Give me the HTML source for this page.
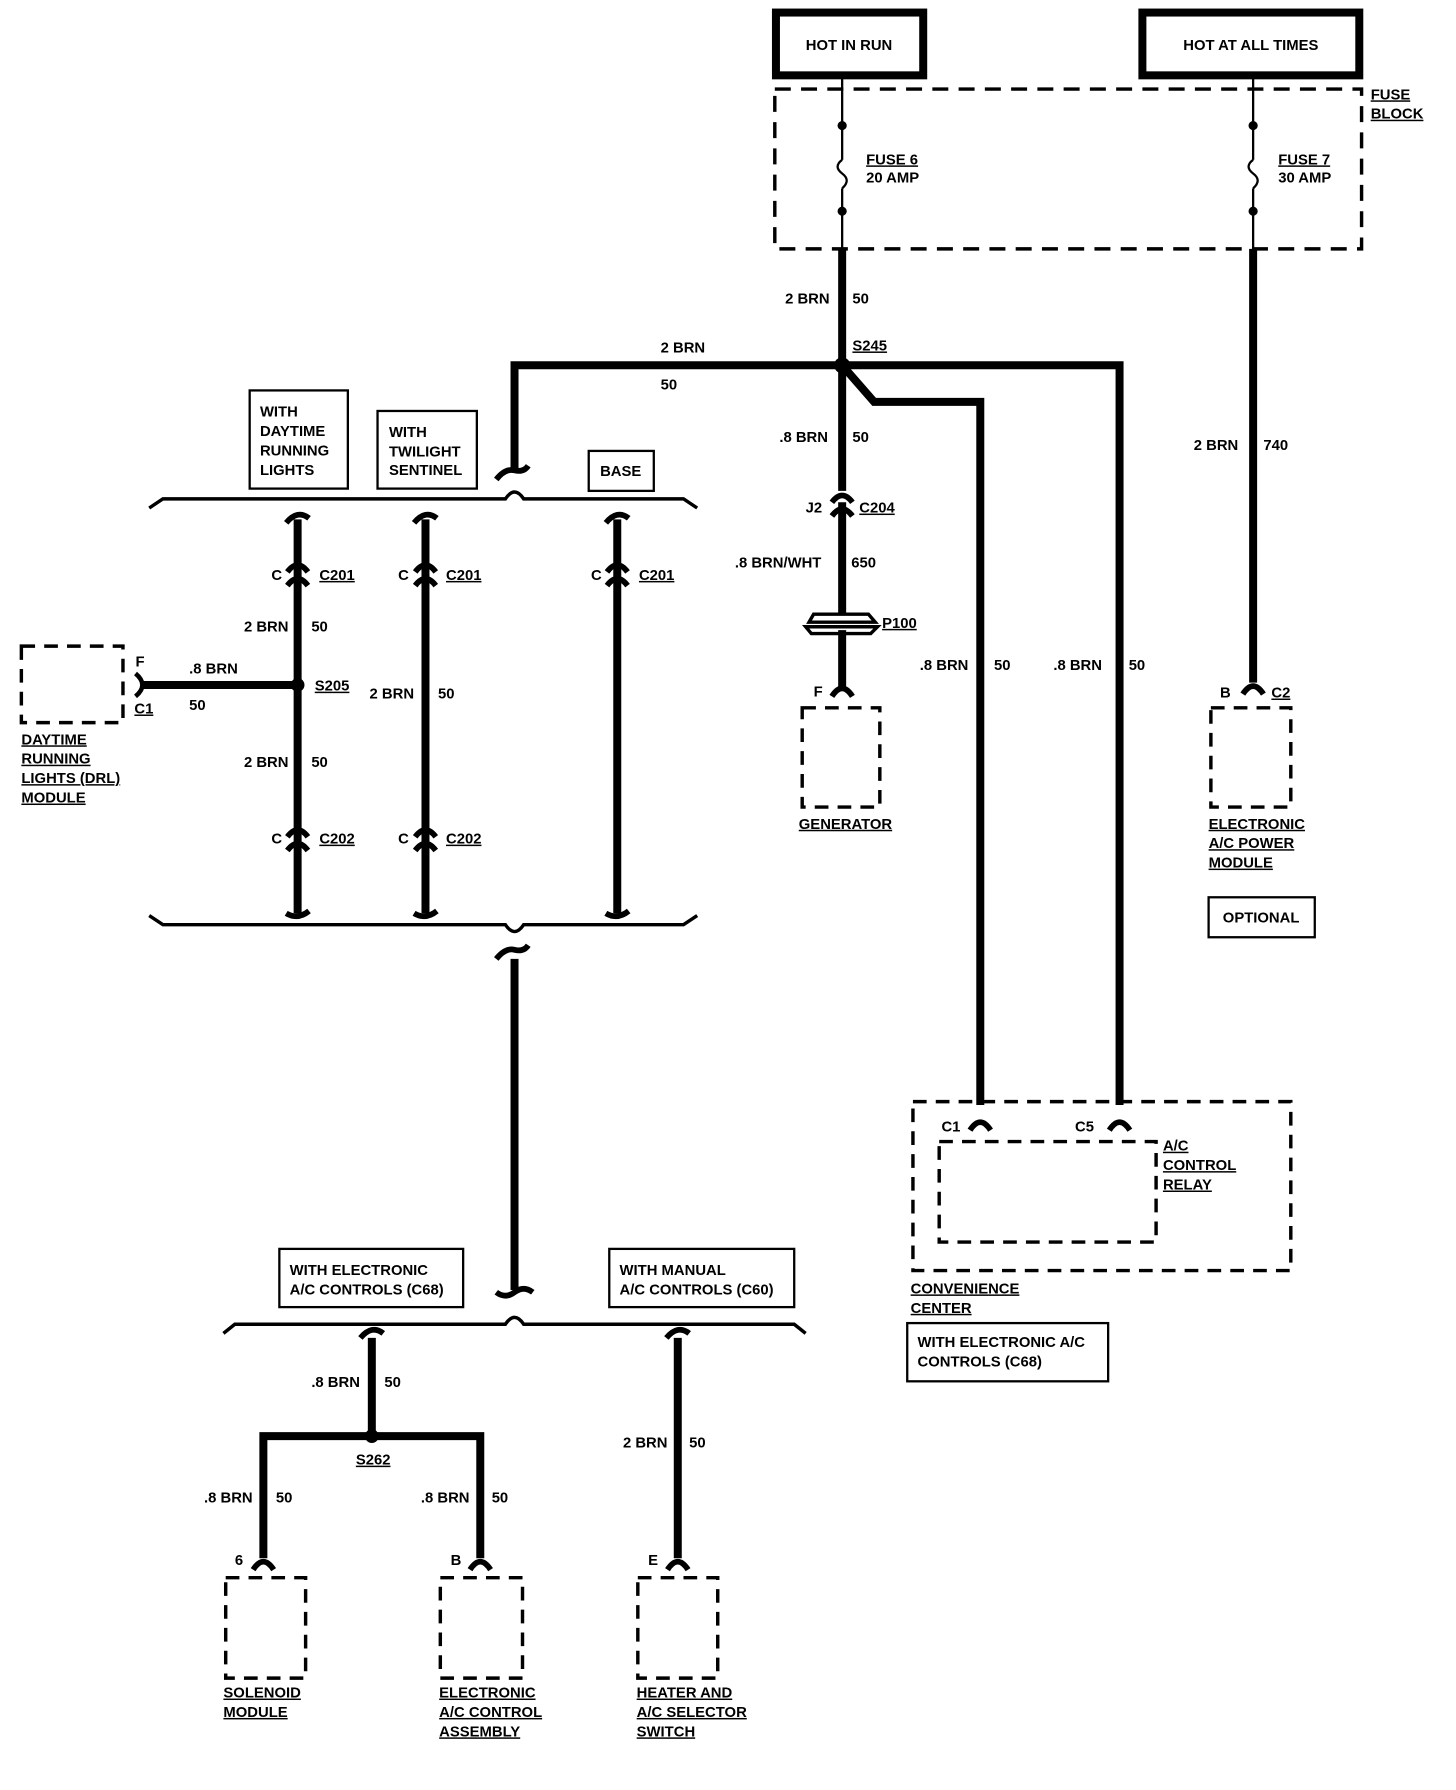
<!DOCTYPE html>
<html><head><style>
html,body{margin:0;padding:0;background:#fff;}
svg{display:block;}
text{font-family:"Liberation Sans",sans-serif;font-weight:bold;font-size:13px;fill:#000;}
.u{text-decoration:underline;}
</style></head><body>
<svg width="1456" height="1790" viewBox="0 0 1274 1568" xmlns="http://www.w3.org/2000/svg">
<defs>
<g id="fc"><path d="M-9,8 Q0,-6 9,8" fill="none" stroke="#000" stroke-width="5"/></g>
<g id="inl"><path d="M-9,-2 Q0,-14 9,-2 M-9,10 Q0,-2 9,10" fill="none" stroke="#000" stroke-width="5"/></g>
</defs>
<g fill="none" stroke="#000">
<rect x="679" y="11" width="129" height="55" stroke-width="7"/>
<rect x="1000" y="11" width="190" height="55" stroke-width="7"/>
<rect x="678" y="78" width="514" height="140" stroke-width="3" stroke-dasharray="14,9"/>
<path d="M737,66 V140 M737,165 V218 M1097,66 V140 M1097,165 V218" stroke-width="2"/>
<path d="M737,140 q-8,6 0,12 q8,6 0,13 M1097,140 q-8,6 0,12 q8,6 0,13" stroke-width="2"/>
<g stroke-width="7">
<path d="M737,218 V430"/>
<path d="M737,440 V538"/>
<path d="M737,552 V602"/>
<path d="M737,320 H450 V410"/>
<path d="M737,320 H980 V968"/>
<path d="M737,320 L765,352 H858 V968"/>
<path d="M1097,218 V598"/>
<path d="M260,455 V800 M372,455 V800 M540,455 V800"/>
<path d="M125,600 H260"/>
<path d="M450,840 V1130"/>
<path d="M325,1172 V1258 M230,1365 V1258 H420 V1365 M593,1172 V1365"/>
</g>
<path d="M130,445 L142,437 H442 Q450,425 458,437 H598 L610,445" stroke-width="3"/>
<path d="M130,802 L142,810 H442 Q450,822 458,810 H598 L610,802" stroke-width="3"/>
<path d="M195,1168 L205,1160 H442 Q450,1148 458,1160 H695 L705,1168" stroke-width="3"/>
<path d="M434,420 q8,-10 16,-8 q8,2 12,-4" stroke-width="5"/>
<path d="M434,840 q8,-10 16,-8 q8,2 12,-4 M434,1132 q8,6 16,0 q8,-6 16,0" stroke-width="5"/>
<path d="M250,458 q10,-12 20,-4 M362,458 q10,-12 20,-4 M530,458 q10,-12 20,-4 M315,1172 q10,-12 20,-4 M583,1172 q10,-12 20,-4" stroke-width="5"/>
<path d="M250,800 q10,6 20,-2 M362,800 q10,6 20,-2 M530,800 q10,6 20,-2" stroke-width="5"/>
<rect x="218" y="342" width="86" height="86" stroke-width="2"/>
<rect x="330" y="360" width="87" height="68" stroke-width="2"/>
<rect x="515" y="395" width="57" height="35" stroke-width="2"/>
<rect x="1058" y="786" width="93" height="35" stroke-width="2"/>
<rect x="794" y="1159" width="176" height="51" stroke-width="2"/>
<rect x="244" y="1094" width="161" height="51" stroke-width="2"/>
<rect x="533" y="1094" width="162" height="51" stroke-width="2"/>
<g stroke-width="3" stroke-dasharray="12,8">
<rect x="702" y="620" width="68" height="87"/>
<rect x="1060" y="620" width="70" height="87"/>
<rect x="18" y="566" width="89" height="67"/>
<rect x="799" y="965" width="331" height="148"/>
<rect x="822" y="1000" width="190" height="88"/>
<rect x="197" y="1382" width="70" height="88"/>
<rect x="385" y="1382" width="72" height="88"/>
<rect x="558" y="1382" width="70" height="88"/>
</g>
<path d="M712,538 H760 L766,545 H708 Z" stroke-width="3"/>
<path d="M705,549 H768 L762,555 H710 Z" stroke-width="3"/>
<path d="M118,590 q12,10 0,20" stroke-width="4"/>
</g>
<use href="#fc" x="737" y="602"/>
<use href="#fc" x="1097" y="600"/>
<use href="#fc" x="858" y="982"/>
<use href="#fc" x="980" y="982"/>
<use href="#fc" x="230" y="1367"/>
<use href="#fc" x="420" y="1367"/>
<use href="#fc" x="593" y="1367"/>
<use href="#inl" x="737" y="442"/>
<use href="#inl" x="260" y="503"/>
<use href="#inl" x="372" y="503"/>
<use href="#inl" x="540" y="503"/>
<use href="#inl" x="260" y="735"/>
<use href="#inl" x="372" y="735"/>
<circle cx="737" cy="320" r="7"/>
<circle cx="737" cy="110" r="4"/><circle cx="737" cy="185" r="4"/>
<circle cx="1097" cy="110" r="4"/><circle cx="1097" cy="185" r="4"/>
<circle cx="260" cy="600" r="6"/>
<circle cx="325" cy="1258" r="6"/>
<text x="743" y="44" text-anchor="middle">HOT IN RUN</text>
<text x="1095" y="44" text-anchor="middle">HOT AT ALL TIMES</text>
<text x="1200" y="87" class="u">FUSE</text><text x="1200" y="104" class="u">BLOCK</text>
<text x="758" y="144" class="u">FUSE 6</text><text x="758" y="160">20 AMP</text>
<text x="1119" y="144" class="u">FUSE 7</text><text x="1119" y="160">30 AMP</text>
<text x="687" y="266">2 BRN</text><text x="746" y="266">50</text>
<text x="746" y="307" class="u">S245</text>
<text x="578" y="309">2 BRN</text><text x="578" y="341">50</text>
<text x="682" y="387">.8 BRN</text><text x="746" y="387">50</text>
<text x="705" y="449">J2</text><text x="752" y="449" class="u">C204</text>
<text x="643" y="497">.8 BRN/WHT</text><text x="745" y="497">650</text>
<text x="772" y="550" class="u">P100</text>
<text x="712" y="610">F</text>
<text x="699" y="726" class="u">GENERATOR</text>
<text x="1045" y="394">2 BRN</text><text x="1106" y="394">740</text>
<text x="1068" y="611">B</text><text x="1113" y="611" class="u">C2</text>
<text x="1058" y="726" class="u">ELECTRONIC</text><text x="1058" y="743" class="u">A/C POWER</text><text x="1058" y="760" class="u">MODULE</text>
<text x="1104" y="808" text-anchor="middle">OPTIONAL</text>
<text x="805" y="587">.8 BRN</text><text x="870" y="587">50</text>
<text x="922" y="587">.8 BRN</text><text x="988" y="587">50</text>
<text x="824" y="991">C1</text><text x="941" y="991">C5</text>
<text x="1018" y="1008" class="u">A/C</text><text x="1018" y="1025" class="u">CONTROL</text><text x="1018" y="1042" class="u">RELAY</text>
<text x="797" y="1133" class="u">CONVENIENCE</text><text x="797" y="1150" class="u">CENTER</text>
<text x="803" y="1180">WITH ELECTRONIC A/C</text><text x="803" y="1197">CONTROLS (C68)</text>
<text x="227" y="365">WITH</text><text x="227" y="382">DAYTIME</text><text x="227" y="399">RUNNING</text><text x="227" y="416">LIGHTS</text>
<text x="340" y="383">WITH</text><text x="340" y="400">TWILIGHT</text><text x="340" y="416">SENTINEL</text>
<text x="543" y="417" text-anchor="middle">BASE</text>
<text x="237" y="508">C</text><text x="279" y="508" class="u">C201</text>
<text x="348" y="508">C</text><text x="390" y="508" class="u">C201</text>
<text x="517" y="508">C</text><text x="559" y="508" class="u">C201</text>
<text x="213" y="553">2 BRN</text><text x="272" y="553">50</text>
<text x="275" y="605" class="u">S205</text>
<text x="165" y="590">.8 BRN</text><text x="165" y="622">50</text>
<text x="118" y="584">F</text><text x="117" y="625" class="u">C1</text>
<text x="18" y="652" class="u">DAYTIME</text><text x="18" y="669" class="u">RUNNING</text><text x="18" y="686" class="u">LIGHTS (DRL)</text><text x="18" y="703" class="u">MODULE</text>
<text x="323" y="612">2 BRN</text><text x="383" y="612">50</text>
<text x="213" y="672">2 BRN</text><text x="272" y="672">50</text>
<text x="237" y="739">C</text><text x="279" y="739" class="u">C202</text>
<text x="348" y="739">C</text><text x="390" y="739" class="u">C202</text>
<text x="253" y="1117">WITH ELECTRONIC</text><text x="253" y="1134">A/C CONTROLS (C68)</text>
<text x="542" y="1117">WITH MANUAL</text><text x="542" y="1134">A/C CONTROLS (C60)</text>
<text x="272" y="1215">.8 BRN</text><text x="336" y="1215">50</text>
<text x="311" y="1283" class="u">S262</text>
<text x="178" y="1316">.8 BRN</text><text x="241" y="1316">50</text>
<text x="368" y="1316">.8 BRN</text><text x="430" y="1316">50</text>
<text x="545" y="1268">2 BRN</text><text x="603" y="1268">50</text>
<text x="205" y="1371">6</text><text x="394" y="1371">B</text><text x="567" y="1371">E</text>
<text x="195" y="1487" class="u">SOLENOID</text><text x="195" y="1504" class="u">MODULE</text>
<text x="384" y="1487" class="u">ELECTRONIC</text><text x="384" y="1504" class="u">A/C CONTROL</text><text x="384" y="1521" class="u">ASSEMBLY</text>
<text x="557" y="1487" class="u">HEATER AND</text><text x="557" y="1504" class="u">A/C SELECTOR</text><text x="557" y="1521" class="u">SWITCH</text>
</svg>
</body></html>
